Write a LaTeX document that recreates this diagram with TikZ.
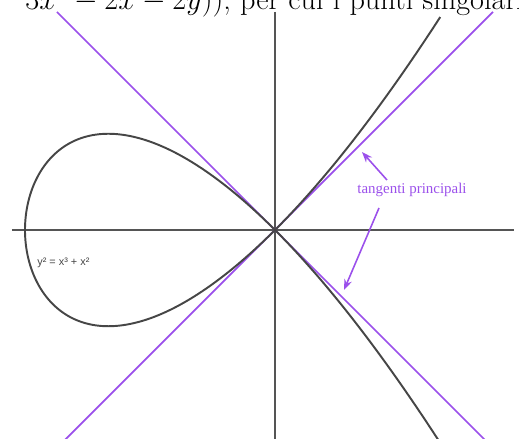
\documentclass[tikz,border=0pt]{standalone}
\usepackage{fontspec}
\newfontfamily\serifT{Liberation Serif}
\newfontfamily\sansA{Liberation Sans}
\usetikzlibrary{arrows.meta}
\definecolor{tgpurple}{RGB}{155,80,235}
\definecolor{axisgray}{RGB}{85,85,85}
\definecolor{curvegray}{RGB}{70,70,70}
\begin{document}
\begin{tikzpicture}[x=5cm,y=5cm,
  axisline/.style={draw=axisgray,line width=0.8pt},
  curveline/.style={draw=curvegray,line width=1.1pt},
  tangline/.style={draw=tgpurple,line width=1.0pt},
  pointer/.style={draw=tgpurple,line width=0.9pt,-{Stealth[length=6pt,width=4.5pt]}},
  lbl/.style={inner sep=0pt}]
\useasboundingbox (-1.1,-0.836) rectangle (0.976,0.92);
\begin{scope}
\clip (-1.1,-0.836) rectangle (0.976,0.92);
% top text (cropped)
\node[lbl,anchor=base west,font=\fontsize{17.2}{20}\selectfont] (toptext) at (-1.0,0.882) {$3x^2 - 2x - 2y))$, per cui i punti singolari};
% axes
\coordinate (xl) at (-1.052,0);
\coordinate (xr) at (0.956,0);
\coordinate (yt) at (0,0.872);
\coordinate (yb) at (0,-0.9);
\draw[axisline] (xl) -- (xr);
\draw[axisline] (yt) -- (yb);
% tangent lines
\coordinate (a1) at (-0.872,0.872);
\coordinate (a2) at (0.9,-0.9);
\coordinate (b1) at (0.872,0.872);
\coordinate (b2) at (-0.9,-0.9);
\draw[tangline] (a1) -- (a2);
\draw[tangline] (b1) -- (b2);
% nodal cubic y^2 = x^3 + x^2
\draw[curveline] plot[domain=-1.33:1.293,samples=300,smooth] ({\x*\x-1},{\x*\x*\x-\x});
\end{scope}
% labels
\node[lbl,anchor=west,font=\sansA\fontsize{6.2}{7}\selectfont,text=curvegray] (eq) at (-0.952,-0.132) {y² = x³ + x²};
\node[lbl,font=\serifT\fontsize{8.5}{10}\selectfont,text=tgpurple] (tp) at (0.548,0.16) {tangenti principali};
\coordinate (s1) at (0.448,0.2);
\coordinate (t1) at (0.348,0.312);
\coordinate (s2) at (0.416,0.088);
\coordinate (t2) at (0.276,-0.24);
\draw[pointer] (s1) -- (t1);
\draw[pointer] (s2) -- (t2);
\end{tikzpicture}
\end{document}
